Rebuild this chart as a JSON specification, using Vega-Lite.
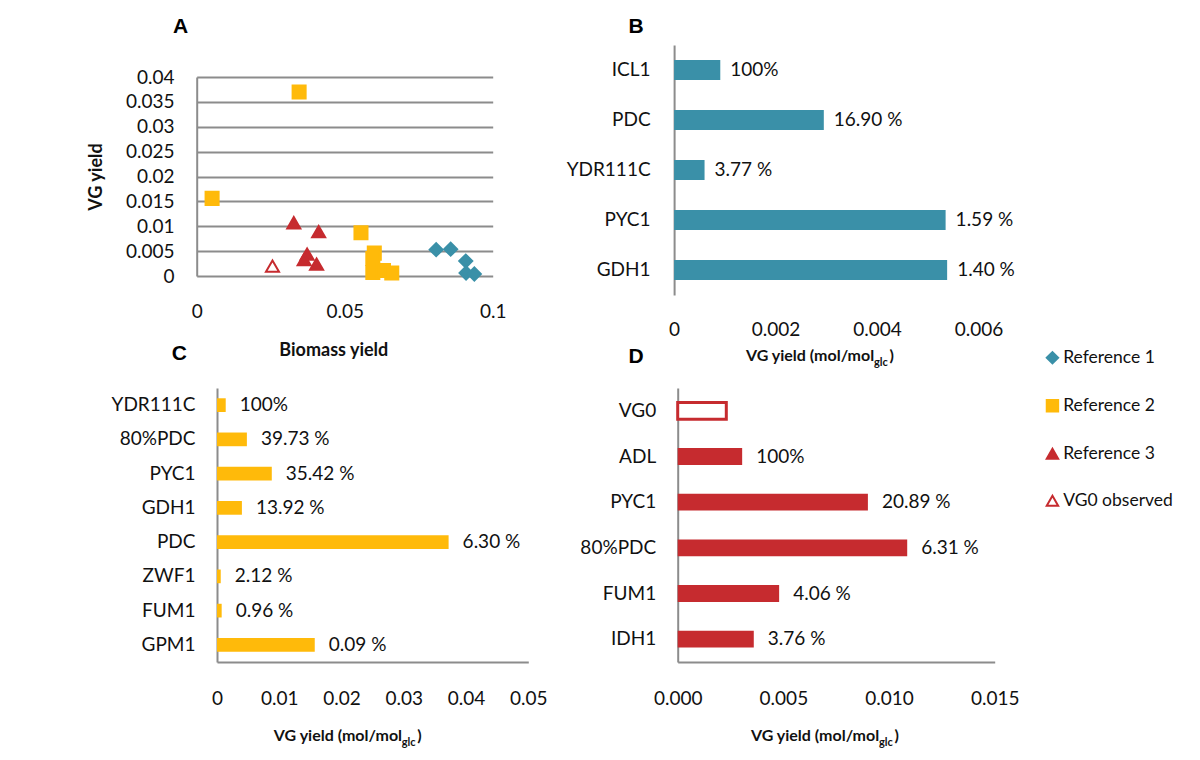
{
  "$schema": "https://vega.github.io/schema/vega-lite/v6.json",
  "autosize": {"type": "none"},
  "padding": {"left": 196.7, "top": 45, "right": 1003.3, "bottom": 715},
  "background": "white",
  "columns": 2,
  "bounds": "flush",
  "spacing": {"row": 93, "column": 145.4},
  "config": {
    "view": {"stroke": null},
    "font": "Lato",
    "axis": {"labelFont": "Lato", "labelFontSize": 19, "labelColor": "#111", "labelFlush": false, "titleFont": "Lato", "titleColor": "#111", "domainColor": "#8c8c8c", "domainWidth": 2, "ticks": false, "tickSize": 0, "grid": false, "gridColor": "#8c8c8c", "gridWidth": 2},
    "title": {"font": "Liberation Sans", "fontSize": 21, "fontWeight": "bold", "color": "#000", "anchor": "start", "frame": "group", "baseline": "alphabetic"},
    "text": {"font": "Lato", "fontSize": 19, "fill": "#111"}
  },
  "concat": [
    {
      "title": {"text": "A", "dx": -23.7, "offset": 8.3},
      "width": 296,
      "height": 231,
      "data": {"values": [
        {"series": "Reference 1", "biomass": 0.0809, "vg": 0.0053},
        {"series": "Reference 1", "biomass": 0.0858, "vg": 0.0054},
        {"series": "Reference 1", "biomass": 0.0909, "vg": 0.0030},
        {"series": "Reference 1", "biomass": 0.0910, "vg": 0.0006},
        {"series": "Reference 1", "biomass": 0.0938, "vg": 0.0004},
        {"series": "Reference 2", "biomass": 0.0346, "vg": 0.0370},
        {"series": "Reference 2", "biomass": 0.0052, "vg": 0.0156},
        {"series": "Reference 2", "biomass": 0.0555, "vg": 0.0087},
        {"series": "Reference 2", "biomass": 0.0600, "vg": 0.0046},
        {"series": "Reference 2", "biomass": 0.0595, "vg": 0.0035},
        {"series": "Reference 2", "biomass": 0.0595, "vg": 0.0007},
        {"series": "Reference 2", "biomass": 0.0631, "vg": 0.0011},
        {"series": "Reference 2", "biomass": 0.0659, "vg": 0.0006},
        {"series": "Reference 3", "biomass": 0.0328, "vg": 0.0107},
        {"series": "Reference 3", "biomass": 0.0412, "vg": 0.0089},
        {"series": "Reference 3", "biomass": 0.0373, "vg": 0.0044},
        {"series": "Reference 3", "biomass": 0.0363, "vg": 0.0033},
        {"series": "Reference 3", "biomass": 0.0405, "vg": 0.0024},
        {"series": "VG0 observed", "biomass": 0.0256, "vg": 0.0020}
      ]},
      "mark": {"type": "point", "filled": true, "size": 170, "strokeWidth": 2, "opacity": 1},
      "encoding": {
        "x": {"field": "biomass", "type": "quantitative",
          "scale": {"domain": [0, 0.1], "nice": false, "zero": false},
          "axis": {"values": [0, 0.05, 0.1], "format": "~g", "domain": false, "labelPadding": 26,
            "title": "Biomass yield", "titleFontSize": 18, "titleFontWeight": "bold",
            "titleX": 136.6, "titleY": 79, "titleAlign": "center", "titleBaseline": "alphabetic"}},
        "y": {"field": "vg", "type": "quantitative",
          "scale": {"domain": [0, 0.04], "range": [231, 32], "nice": false, "zero": false},
          "axis": {"values": [0, 0.005, 0.01, 0.015, 0.02, 0.025, 0.03, 0.035, 0.04], "format": "~g", "grid": true, "domain": true, "labelPadding": 22.7,
            "title": "VG yield", "titleFontSize": 18, "titleFontWeight": "bold", "titleAngle": -90,
            "titleX": -95.2, "titleY": 131.5, "titleAlign": "center", "titleBaseline": "alphabetic"}},
        "shape": {"field": "series", "type": "nominal",
          "scale": {"domain": ["Reference 1", "Reference 2", "Reference 3", "VG0 observed"], "range": ["diamond", "square", "triangle-up", "triangle-up"]},
          "legend": {"orient": "none", "legendX": 847, "legendY": 304, "title": null, "labelFont": "Lato", "labelFontSize": 17.5, "labelColor": "#111", "symbolSize": 130, "symbolStrokeWidth": 2, "rowPadding": 28, "labelOffset": 2, "padding": 0}},
        "fill": {"field": "series", "type": "nominal",
          "scale": {"domain": ["Reference 1", "Reference 2", "Reference 3", "VG0 observed"], "range": ["#3A90A8", "#FFBA0A", "#C62B2F", "#FFFFFF"]},
          "legend": {"orient": "none", "legendX": 847, "legendY": 304, "title": null, "labelFont": "Lato", "labelFontSize": 17.5, "labelColor": "#111", "symbolSize": 130, "symbolStrokeWidth": 2, "rowPadding": 28, "labelOffset": 2, "padding": 0}},
        "stroke": {"field": "series", "type": "nominal",
          "scale": {"domain": ["Reference 1", "Reference 2", "Reference 3", "VG0 observed"], "range": ["#3A90A8", "#FFBA0A", "#C62B2F", "#C62B2F"]},
          "legend": {"orient": "none", "legendX": 847, "legendY": 304, "title": null, "labelFont": "Lato", "labelFontSize": 17.5, "labelColor": "#111", "symbolSize": 130, "symbolStrokeWidth": 2, "rowPadding": 28, "labelOffset": 2, "padding": 0}}
      }
    },
    {
      "title": {"text": "B", "dx": -45.7, "offset": 8.3},
      "width": 304.5,
      "height": 250,
      "data": {"values": [
        {"gene": "ICL1", "vg": 0.00091, "label": "100%"},
        {"gene": "PDC", "vg": 0.00295, "label": "16.90 %"},
        {"gene": "YDR111C", "vg": 0.0006, "label": "3.77 %"},
        {"gene": "PYC1", "vg": 0.00535, "label": "1.59 %"},
        {"gene": "GDH1", "vg": 0.00538, "label": "1.40 %"}
      ]},
      "layer": [
        {
          "mark": {"type": "bar", "color": "#3A90A8"},
          "encoding": {
            "y": {"field": "gene", "type": "nominal", "sort": null,
              "scale": {"paddingInner": 0.6, "paddingOuter": 0.3},
              "axis": {"orient": "left", "title": null, "domain": true, "labelPadding": 24}},
            "x": {"field": "vg", "type": "quantitative",
              "scale": {"domain": [0, 0.006], "nice": false},
              "axis": {"values": [0, 0.002, 0.004, 0.006], "format": "~g", "domain": false, "labelPadding": 25.7,
                "title": "VG yield (mol/mol", "titleFontSize": 16, "titleFontWeight": "bold",
                "titleAlign": "left", "titleBaseline": "alphabetic", "titleX": 71.3, "titleY": 65.7}}
          }
        },
        {
          "mark": {"type": "text", "align": "left", "baseline": "middle", "dx": 10},
          "encoding": {
            "y": {"field": "gene", "type": "nominal", "sort": null,
              "axis": {"orient": "left", "labels": false, "domain": false, "ticks": false, "grid": false,
                "title": ")", "titleAngle": 0, "titleFontSize": 16, "titleFontWeight": "bold",
                "titleAlign": "left", "titleBaseline": "alphabetic", "titleX": 214.8, "titleY": 315.7}},
            "x": {"field": "vg", "type": "quantitative",
              "axis": {"orient": "bottom", "labels": false, "domain": false, "ticks": false, "grid": false,
                "title": "glc", "titleFontSize": 11, "titleFontWeight": "bold",
                "titleAlign": "left", "titleBaseline": "alphabetic", "titleX": 199.3, "titleY": 70}},
            "text": {"field": "label"}
          }
        }
      ],
      "resolve": {"axis": {"x": "independent", "y": "independent"}}
    },
    {
      "title": {"text": "C", "dx": -25, "offset": 24.5},
      "width": 331.6,
      "height": 274,
      "data": {"values": [
        {"gene": "YDR111C", "vg": 0.0014, "label": "100%"},
        {"gene": "80%PDC", "vg": 0.0048, "label": "39.73 %"},
        {"gene": "PYC1", "vg": 0.0088, "label": "35.42 %"},
        {"gene": "GDH1", "vg": 0.0040, "label": "13.92 %"},
        {"gene": "PDC", "vg": 0.0372, "label": "6.30 %"},
        {"gene": "ZWF1", "vg": 0.0006, "label": "2.12 %"},
        {"gene": "FUM1", "vg": 0.00075, "label": "0.96 %"},
        {"gene": "GPM1", "vg": 0.0157, "label": "0.09 %"}
      ]},
      "layer": [
        {
          "mark": {"type": "bar", "color": "#FFBA0A"},
          "encoding": {
            "y": {"field": "gene", "type": "nominal", "sort": null,
              "scale": {"paddingInner": 0.6, "paddingOuter": 0.3},
              "axis": {"orient": "left", "title": null, "domain": true, "offset": -20.3, "labelPadding": 22}},
            "x": {"field": "vg", "type": "quantitative",
              "scale": {"domain": [0, 0.05], "range": [20.3, 331.6], "nice": false},
              "axis": {"values": [0, 0.01, 0.02, 0.03, 0.04, 0.05], "format": "~g", "domain": true, "labelPadding": 27,
                "title": "VG yield (mol/mol", "titleFontSize": 16, "titleFontWeight": "bold",
                "titleAlign": "left", "titleBaseline": "alphabetic", "titleX": 76.6, "titleY": 78.7}}
          }
        },
        {
          "mark": {"type": "text", "align": "left", "baseline": "middle", "dx": 14},
          "encoding": {
            "y": {"field": "gene", "type": "nominal", "sort": null,
              "axis": {"orient": "left", "labels": false, "domain": false, "ticks": false, "grid": false,
                "title": ")", "titleAngle": 0, "titleFontSize": 16, "titleFontWeight": "bold",
                "titleAlign": "left", "titleBaseline": "alphabetic", "titleX": 220.1, "titleY": 352.7}},
            "x": {"field": "vg", "type": "quantitative",
              "axis": {"orient": "bottom", "labels": false, "domain": false, "ticks": false, "grid": false,
                "title": "glc", "titleFontSize": 11, "titleFontWeight": "bold",
                "titleAlign": "left", "titleBaseline": "alphabetic", "titleX": 204.6, "titleY": 83}},
            "text": {"field": "label"}
          }
        }
      ],
      "resolve": {"axis": {"x": "independent", "y": "independent"}}
    },
    {
      "title": {"text": "D", "dx": -45.7, "offset": 21.3},
      "width": 320.6,
      "height": 274,
      "data": {"values": [
        {"gene": "VG0", "vg": 0.0023, "label": "", "kind": "observed"},
        {"gene": "ADL", "vg": 0.00305, "label": "100%", "kind": "simulated"},
        {"gene": "PYC1", "vg": 0.0090, "label": "20.89 %", "kind": "simulated"},
        {"gene": "80%PDC", "vg": 0.01086, "label": "6.31 %", "kind": "simulated"},
        {"gene": "FUM1", "vg": 0.0048, "label": "4.06 %", "kind": "simulated"},
        {"gene": "IDH1", "vg": 0.0036, "label": "3.76 %", "kind": "simulated"}
      ]},
      "layer": [
        {
          "transform": [{"filter": "datum.kind === 'simulated'"}],
          "mark": {"type": "bar", "color": "#C62B2F"},
          "encoding": {
            "y": {"field": "gene", "type": "nominal", "sort": null,
              "scale": {"domain": ["VG0", "ADL", "PYC1", "80%PDC", "FUM1", "IDH1"], "paddingInner": 0.63, "paddingOuter": 0.315},
              "axis": {"orient": "left", "title": null, "domain": true, "offset": -3.6, "labelPadding": 22}},
            "x": {"field": "vg", "type": "quantitative",
              "scale": {"domain": [0, 0.015], "range": [3.6, 320.6], "nice": false},
              "axis": {"values": [0, 0.005, 0.01, 0.015], "format": ".3f", "domain": true, "labelPadding": 27,
                "title": "VG yield (mol/mol", "titleFontSize": 16, "titleFontWeight": "bold",
                "titleAlign": "left", "titleBaseline": "alphabetic", "titleX": 76.3, "titleY": 78.7}}
          }
        },
        {
          "transform": [{"filter": "datum.kind === 'observed'"}],
          "mark": {"type": "bar", "fill": "#FFFFFF", "stroke": "#C62B2F", "strokeWidth": 3},
          "encoding": {
            "y": {"field": "gene", "type": "nominal", "sort": null, "axis": null},
            "x": {"field": "vg", "type": "quantitative", "axis": null}
          }
        },
        {
          "mark": {"type": "text", "align": "left", "baseline": "middle", "dx": 14},
          "encoding": {
            "y": {"field": "gene", "type": "nominal", "sort": null,
              "axis": {"orient": "left", "labels": false, "domain": false, "ticks": false, "grid": false,
                "title": ")", "titleAngle": 0, "titleFontSize": 16, "titleFontWeight": "bold",
                "titleAlign": "left", "titleBaseline": "alphabetic", "titleX": 219.8, "titleY": 352.7}},
            "x": {"field": "vg", "type": "quantitative",
              "axis": {"orient": "bottom", "labels": false, "domain": false, "ticks": false, "grid": false,
                "title": "glc", "titleFontSize": 11, "titleFontWeight": "bold",
                "titleAlign": "left", "titleBaseline": "alphabetic", "titleX": 204.3, "titleY": 83}},
            "text": {"field": "label"}
          }
        }
      ],
      "resolve": {"axis": {"x": "independent", "y": "independent"}}
    }
  ]
}
